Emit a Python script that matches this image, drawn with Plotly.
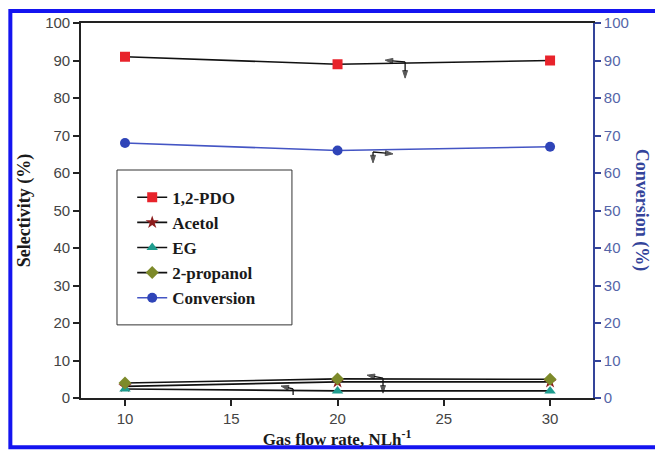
import plotly.graph_objects as go

# Gas flow rate (NL/h)
flow = [10, 20, 30]

# Selectivity (%) of each product
pdo = [91, 89, 90]
acetol = [3.1, 4.3, 4.3]
eg = [2.4, 1.9, 1.9]
propanol = [4.0, 5.1, 5.0]

# Glycerol conversion (%)
conversion = [68, 66, 67]

x_ticks = [10, 15, 20, 25, 30]
y_ticks = [0, 10, 20, 30, 40, 50, 60, 70, 80, 90, 100]

SERIF = "Liberation Serif"
SANS = "Liberation Sans"
AXIS_BLUE = "#34449a"

fig = go.Figure()

series = [
    ("1,2-PDO", pdo, "square", "#e8232b"),
    ("Acetol", acetol, "star", "#8c1c1c"),
    ("EG", eg, "triangle-up", "#1e9c8e"),
    ("2-propanol", propanol, "diamond", "#7d8a2a"),
]
for name, vals, sym, mcol in series:
    fig.add_trace(go.Scatter(
        x=flow, y=vals, name=name, mode="lines+markers",
        line=dict(color="#111111", width=1.6),
        marker=dict(symbol=sym, size=10, color=mcol, line=dict(width=0)),
    ))

fig.add_trace(go.Scatter(
    x=flow, y=conversion, name="Conversion", mode="lines+markers",
    line=dict(color="#4455c4", width=1.6),
    marker=dict(symbol="circle", size=10, color="#2f44b8", line=dict(width=0)),
    yaxis="y2",
))

# Axis-indicator arrows: each is a corner point with two short arrowed legs
# (corner, tip) pairs in data units
arrow_legs = [
    ((23.18, 89.6), (22.24, 90.1), "y"),
    ((23.18, 89.6), (23.18, 85.3), "y"),
    ((21.67, 65.6), (22.61, 65.1), "y2"),
    ((21.67, 65.6), (21.67, 62.7), "y2"),
    ((17.91, 2.4), (17.34, 3.2), "y"),
    ((17.91, 2.4), (17.91, -1.1), "y"),
    ((22.14, 5.3), (21.39, 6.1), "y"),
    ((22.14, 5.3), (22.14, 1.3), "y"),
]
for (cx, cy), (tx, ty), yax in arrow_legs:
    fig.add_trace(go.Scatter(
        x=[cx, tx], y=[cy, ty], mode="lines+markers", yaxis=yax,
        line=dict(color="#111111", width=1.3),
        marker=dict(symbol=["circle", "arrow"], size=[0, 8],
                    angleref="previous", color="#111111",
                    line=dict(width=1, color="#111111")),
        showlegend=False, hoverinfo="skip", cliponaxis=False,
    ))

# Right-hand axis title, reading top to bottom
fig.add_annotation(
    text="Conversion (%)", xref="paper", yref="paper", x=1.095, y=0.5,
    showarrow=False, textangle=90, xanchor="center", yanchor="middle",
    font=dict(family=SERIF, size=18, color=AXIS_BLUE, weight="bold"),
)

# Legend box
fig.add_shape(type="rect", xref="paper", yref="paper",
              x0=0.0703, x1=0.412, y0=0.195, y1=0.608,
              line=dict(color="#333333", width=1), fillcolor="white",
              layer="below")

# Outer blue frame
fig.add_shape(type="rect", xref="paper", yref="paper",
              x0=-0.138, x1=1.14, y0=-0.131, y1=1.032,
              line=dict(color="#1414f0", width=4), fillcolor="rgba(0,0,0,0)",
              layer="above")

fig.update_layout(
    width=655, height=450,
    margin=dict(l=81, r=62, t=23, b=52, autoexpand=False),
    paper_bgcolor="white", plot_bgcolor="white",
    showlegend=True,
    legend=dict(
        x=0.1, y=0.582, xanchor="left", yanchor="top",
        bgcolor="rgba(0,0,0,0)", borderwidth=0,
        font=dict(family=SERIF, size=17, color="#1a1a1a", weight="bold"),
        tracegroupgap=0,
    ),
    xaxis=dict(
        range=[7.93, 32.02], tickvals=x_ticks, showgrid=False, zeroline=False,
        showline=True, linecolor="#222222", linewidth=1.6, mirror=True,
        ticks="outside", ticklen=6, tickwidth=1.6, tickcolor="#222222",
        tickfont=dict(family=SANS, size=15, color="#444444"),
        automargin=False,
        title=dict(text="Gas flow rate, NLh<sup>-1</sup>", standoff=6,
                   font=dict(family=SERIF, size=17, color="#1a1a1a", weight="bold")),
    ),
    yaxis=dict(
        range=[0, 100], tickvals=y_ticks, showgrid=False, zeroline=False,
        showline=True, linecolor="#222222", linewidth=1.6,
        ticks="outside", ticklen=6, tickwidth=1.6, tickcolor="#222222",
        tickfont=dict(family=SANS, size=15, color="#444444"),
        automargin=False,
        title=dict(text="Selectivity (%)", standoff=10,
                   font=dict(family=SERIF, size=18, color="#1a1a1a", weight="bold")),
    ),
    yaxis2=dict(
        range=[0, 100], tickvals=y_ticks, overlaying="y", side="right",
        showgrid=False, zeroline=False, automargin=False,
        showline=True, linecolor=AXIS_BLUE, linewidth=1.6,
        ticks="outside", ticklen=6, tickwidth=1.6, tickcolor=AXIS_BLUE,
        tickfont=dict(family=SANS, size=15, color="#5565a8"),
    ),
)

fig.write_html("out.html")
